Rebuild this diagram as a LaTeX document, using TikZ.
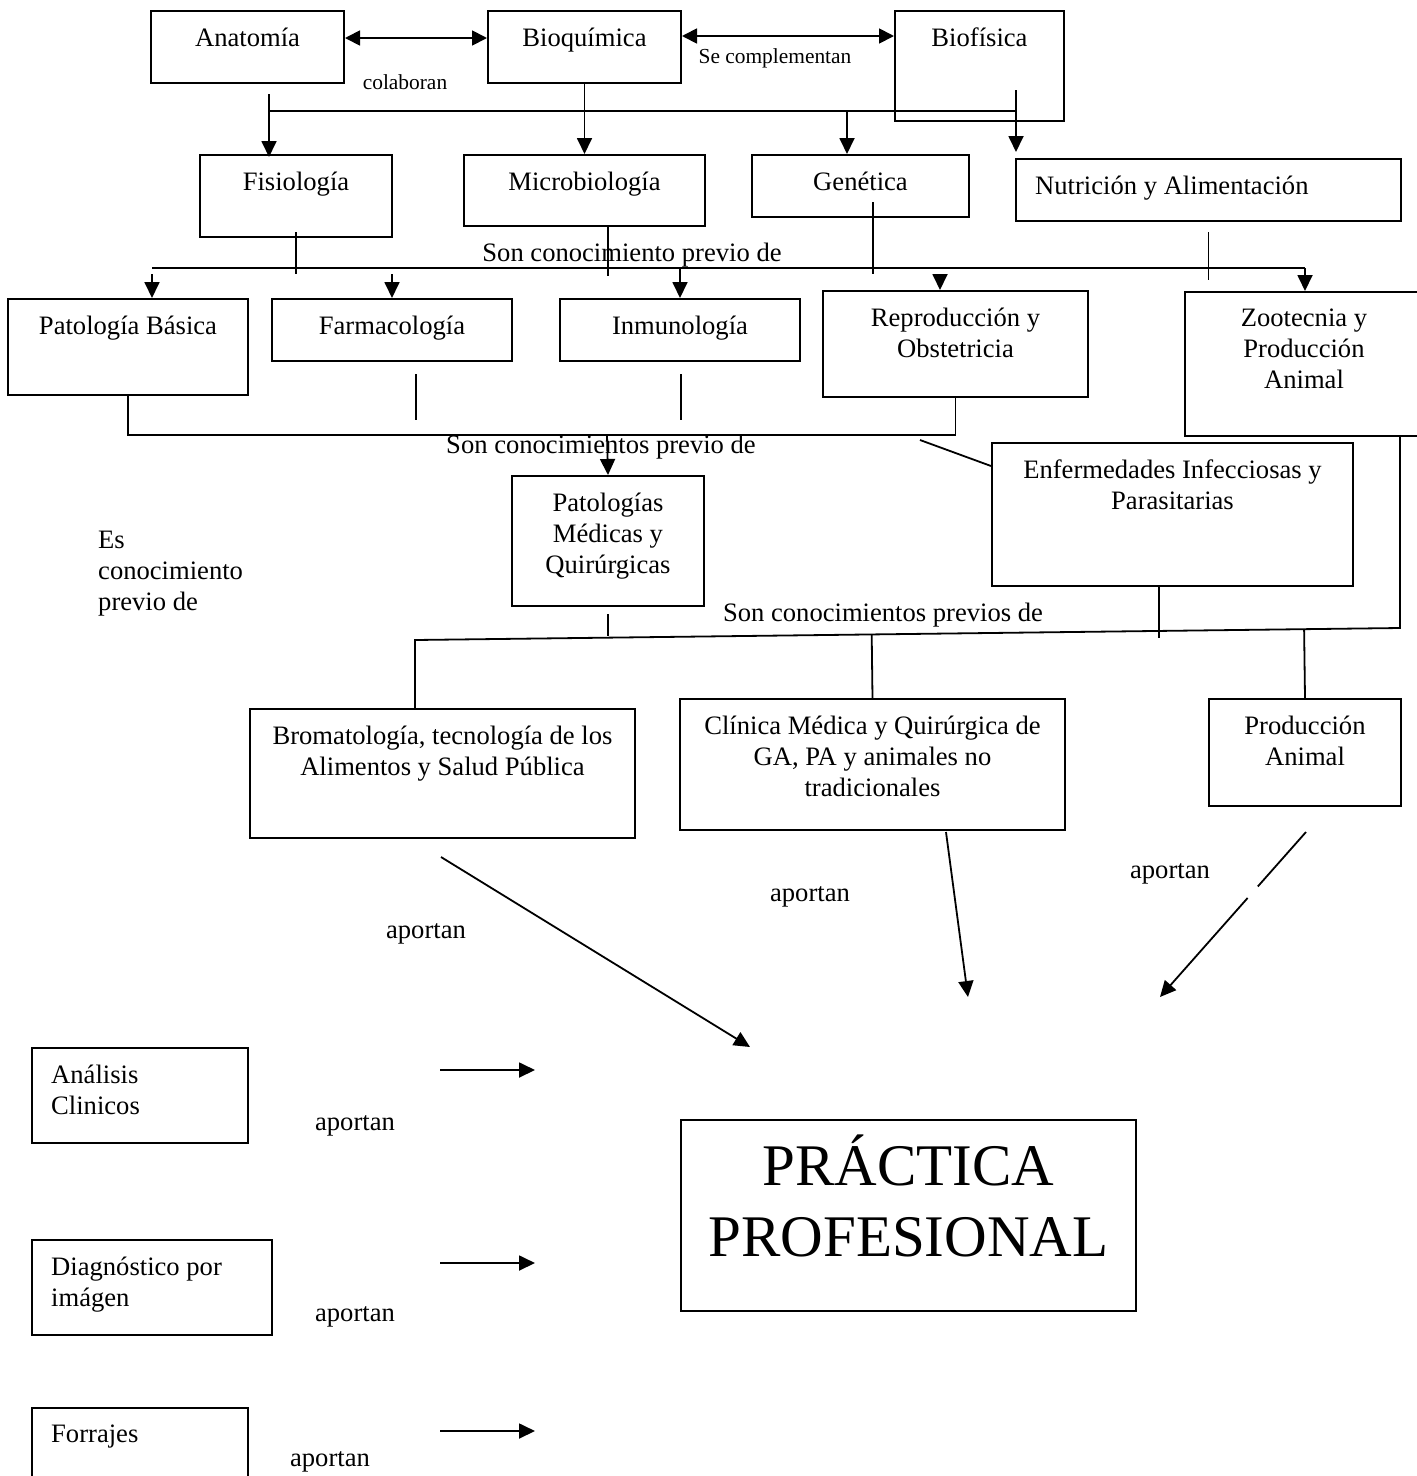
\documentclass[tikz,border=0pt]{standalone}
\usepackage{fontspec}
\setmainfont{Liberation Serif}
\usetikzlibrary{arrows.meta}
\usetikzlibrary{positioning}
\usetikzlibrary{calc}

\begin{document}
\begin{tikzpicture}[x=1pt, y=-1pt,
    caja/.style={draw, line width=2pt, inner sep=0pt, anchor=north west},
    txt/.style={font=\fontsize{26.6}{31}\selectfont, inner sep=0pt},
    chico/.style={font=\fontsize{21.4}{25}\selectfont, inner sep=0pt},
    lbl/.style={txt, align=center, anchor=north, yshift=-18pt},
    lblw/.style={txt, align=left, anchor=north west, xshift=20pt, yshift=-18pt},
    grande/.style={font=\fontsize{59}{71}\selectfont, align=center, anchor=north, inner sep=0pt, yshift=-16pt},
    linea/.style={line width=1.8pt},
    flecha/.style={linea, -{Triangle[length=16pt, width=15pt]}},
    doble/.style={linea, {Triangle[length=15pt, width=15pt]}-{Triangle[length=15pt, width=15pt]}}]

        % Page size of the reference
        \useasboundingbox (0,0) rectangle (1417,1476);
        \clip (0,0) rectangle (1417,1476);

        % Basic subjects
        \node[caja, minimum width=193pt, minimum height=72pt, label={[lbl]north:Anatomía}] (anat) at (150,10) {};
        \node[caja, minimum width=193pt, minimum height=72pt, label={[lbl]north:Bioquímica}] (bioq) at (487,10) {};
        \node[caja, minimum width=169pt, minimum height=110pt, label={[lbl]north:Biofísica}] (biof) at (894,10) {};

        \node[caja, minimum width=192pt, minimum height=82pt, label={[lbl]north:Fisiología}] (fisi) at (199,154) {};
        \node[caja, minimum width=241pt, minimum height=71pt, label={[lbl]north:Microbiología}] (micro) at (463,154) {};
        \node[caja, minimum width=217pt, minimum height=62pt, label={[lbl]north:Genética}] (gene) at (751,154) {};
        \node[caja, minimum width=385pt, minimum height=62pt, label={[lblw]north west:Nutrición y Alimentación}] (nutri) at (1015,158) {};

        % Second level
        \node[caja, minimum width=240pt, minimum height=96pt, label={[lbl]north:Patología Básica}] (patb) at (7,298) {};
        \node[caja, minimum width=240pt, minimum height=62pt, label={[lbl]north:Farmacología}] (farm) at (271,298) {};
        \node[caja, minimum width=240pt, minimum height=62pt, label={[lbl]north:Inmunología}] (inmu) at (559,298) {};
        \node[caja, minimum width=265pt, minimum height=106pt, label={[lbl]north:Reproducción y\\Obstetricia}] (repro) at (822,290) {};
        \node[caja, minimum width=238pt, minimum height=144pt, label={[lbl]north:Zootecnia y\\Producción\\Animal}] (zoot) at (1184,291) {};

        % Third level
        \node[caja, minimum width=192pt, minimum height=130pt, label={[lbl]north:Patologías\\Médicas y\\Quirúrgicas}] (patm) at (511,475) {};
        \node[caja, minimum width=361pt, minimum height=143pt, label={[lbl]north:Enfermedades Infecciosas y\\Parasitarias}] (enfer) at (991,442) {};

        % Fourth level
        \node[caja, minimum width=385pt, minimum height=129pt, label={[lbl]north:Bromatología, tecnología de los\\Alimentos y Salud Pública}] (brom) at (249,708) {};
        \node[caja, minimum width=385pt, minimum height=131pt, label={[lbl]north:Clínica Médica y Quirúrgica de\\GA, PA y animales no\\tradicionales}] (clin) at (679,698) {};
        \node[caja, minimum width=192pt, minimum height=107pt, label={[lbl]north:Producción\\Animal}] (prod) at (1208,698) {};

        % Support subjects and the goal
        \node[caja, minimum width=216pt, minimum height=95pt, label={[lblw]north west:Análisis\\Clinicos}] (anal) at (31,1047) {};
        \node[caja, minimum width=240pt, minimum height=95pt, label={[lblw]north west:Diagnóstico por\\imágen}] (diag) at (31,1239) {};
        \node[caja, minimum width=216pt, minimum height=90pt, label={[lblw]north west:Forrajes}] (forr) at (31,1407) {};
        \node[caja, minimum width=455pt, minimum height=191pt, label={[grande]north:PRÁCTICA\\PROFESIONAL}] (pp) at (680,1119) {};

        % Free texts
        \node[chico, anchor=base] (colab) at (405,89) {colaboran};
        \node[chico, anchor=base] (secomp) at (775,63) {Se complementan};
        \node[txt, anchor=base] (prev1) at (632,261) {Son conocimiento previo de};
        \node[txt, anchor=base] (prev2) at (601,453) {Son conocimientos previo de};
        \node[txt, anchor=base] (prev3) at (883,621) {Son conocimientos previos de};
        \node[txt, align=left, anchor=north west] (esprev) at (98,531) {Es\\conocimiento\\previo de};
        \foreach \x/\y [count=\i] in {426/938, 810/901, 1170/878, 355/1130, 355/1321, 330/1466}
        {
          \node[txt, anchor=base] (ap\i) at (\x,\y) {aportan};
        }

        % Top row arrows
        \draw[doble] ([yshift=-28pt]anat.north east) -- ([yshift=-28pt]bioq.north west);
        \draw[doble] ([yshift=-26pt]bioq.north east) -- ([yshift=-26pt]biof.north west);

        % First bus
        \coordinate (b1a) at (269,111);
        \coordinate (b1b) at (847,111);
        \coordinate (b1c) at (1016,111);
        \draw[linea] ($(anat.south -| b1a)+(0,10)$) -- (b1a) -- (b1c);
        \draw[flecha] (b1a) -- ($(fisi.north -| b1a)+(0,3)$);
        \draw[flecha] (bioq.south) -- (micro.north);
        \draw[flecha] (b1b) -- (gene.north -| b1b);
        \draw[flecha] ($(biof.south -| b1c)+(0,-32)$) -- ($(nutri.north -| b1c)+(0,-6)$);

        % Second bus
        \coordinate (b2a) at (152,268);
        \coordinate (b2b) at (1305,268);
        \coordinate (b2c) at (940,274);
        \draw[linea] (b2a) -- (b2b);
        \draw[flecha] ($(b2a)+(0,6)$) -- (patb.north -| b2a);
        \draw[flecha] ($(farm.north)+(0,-24)$) -- (farm.north);
        \draw[flecha] (b2a -| inmu.north) -- (inmu.north);
        \draw[flecha] (b2c) -- (repro.north -| b2c);
        \draw[flecha] (b2b) -- (zoot.north -| b2b);
        \draw[linea] ($(fisi.south)+(0,-6)$) -- ($(fisi.south |- b2a)+(0,6)$);
        \draw[linea] ($(micro.south)+(23.5,0)$) -- ($(micro.south |- b2a)+(23.5,8)$);
        \draw[linea] ($(gene.south)+(12.5,-16)$) -- ($(gene.south |- b2a)+(12.5,6)$);
        \draw[linea] ($(nutri.south)+(0,10)$) -- ($(nutri.south |- b2a)+(0,12)$);

        % Third bus
        \coordinate (b3) at (607,435);
        \draw[linea] (patb.south) |- (b3) -| (repro.south);
        \draw[linea] ($(farm.south)+(24,12)$) -- ++(0,46);
        \draw[linea] ($(inmu.south)+(1,12)$) -- ++(0,46);
        \draw[flecha] (b3) -- (patm.north);
        \coordinate (enfin) at (920,440);
        \draw[linea] (enfin) -- ($(enfer.north west)+(0,24)$);

        % Fourth bus
        \coordinate (b4a) at (415,640);
        \coordinate (b4b) at (1400,628);
        \draw[linea] (brom.north -| b4a) -- (b4a) -- (b4b) -- (zoot.south -| b4b);
        \draw[linea] ($(patm.south)+(0,7)$) -- ++(0,22);
        \draw[linea] ($(enfer.south)+(-13.5,0)$) -- ++(0,51);
        \draw[linea] ($(b4a)!(clin.north)!(b4b)$) -- (clin.north);
        \draw[linea] ($(b4a)!(prod.north)!(b4b)$) -- (prod.north);

        % Contributions to the goal
        \coordinate (pA) at (750,1047);
        \coordinate (pB) at (968,997);
        \coordinate (pC) at (1160,997);
        \coordinate (pCs) at ($(prod.south)+(1,25)$);
        \draw[flecha] ($(brom.south)+(-1.5,18)$) -- (pA);
        \draw[flecha] ($(clin.south)+(73.5,1)$) -- (pB);
        \draw[linea] (pCs) -- ($(pCs)!0.33!(pC)$);
        \draw[flecha] ($(pCs)!0.4!(pC)$) -- (pC);
        \foreach \y in {1070,1263,1431}
        {
          \draw[flecha] (440,\y) -- (535,\y);
        }
\end{tikzpicture}
\end{document}
